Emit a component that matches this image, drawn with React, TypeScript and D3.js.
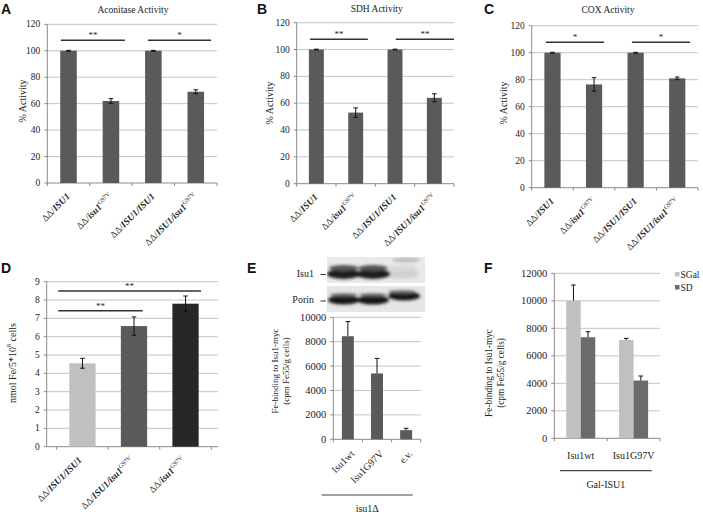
import React from "react";
import * as d3 from "d3";

type Part = [string, string];
type Sig = { from: number; to: number; value: number; label: string };

// ---------- data ----------
const activityCats: Part[][] = [
  [["ΔΔ/", ""], ["ISU1", "b"]],
  [["ΔΔ/", ""], ["isu1", "b"], ["G97V", "sup"]],
  [["ΔΔ/", ""], ["ISU1/ISU1", "b"]],
  [["ΔΔ/", ""], ["ISU1/isu1", "b"], ["G97V", "sup"]],
];
const pctTicks = [0, 20, 40, 60, 80, 100, 120];

const aconValues = [100, 62, 100, 69];
const aconErrors = [0.3, 1.8, 0.3, 1.5];
const aconSig: Sig[] = [
  { from: -0.18, to: 1.33, value: 108, label: "**" },
  { from: 1.87, to: 3.36, value: 108, label: "*" },
];

const sdhValues = [100, 53, 100, 64];
const sdhErrors = [0.3, 3.5, 0.3, 3];
const sdhSig: Sig[] = [
  { from: -0.16, to: 1.31, value: 107.6, label: "**" },
  { from: 2.02, to: 3.5, value: 107.6, label: "**" },
];

const coxValues = [100, 76.5, 100, 81];
const coxErrors = [0.3, 5, 0.3, 1];
const coxSig: Sig[] = [
  { from: -0.16, to: 1.24, value: 107.7, label: "*" },
  { from: 1.91, to: 3.31, value: 107.7, label: "*" },
];

const ironCats: Part[][] = [
  [["ΔΔ/", ""], ["ISU1/ISU1", "b"]],
  [["ΔΔ/", ""], ["ISU1/isu1", "b"], ["G97V", "sup"]],
  [["ΔΔ/", ""], ["isu1", "b"], ["G97V", "sup"]],
];
const ironTicks = [0, 1, 2, 3, 4, 5, 6, 7, 8, 9];
const ironValues = [4.55, 6.58, 7.8];
const ironErrors = [0.27, 0.5, 0.42];
const ironColors = ["#c0c0c0", "#5a5a5a", "#272727"];
const ironSig: Sig[] = [
  { from: -0.47, to: 2.3, value: 8.49, label: "**" },
  { from: -0.47, to: 1.17, value: 7.42, label: "**" },
];

const bindCats: Part[][] = [[["Isu1wt", ""]], [["Isu1G97V", ""]], [["e.v.", ""]]];
const bindTicks = [0, 2000, 4000, 6000, 8000, 10000];
const bindValues = [8450, 5400, 750];
const bindErrors = [1200, 1230, 150];
const blotIsu1 = [1, 1, 0.1];
const blotPorin = [1, 1, 1];

const galCats: Part[][] = [[["Isu1wt", ""]], [["Isu1G97V", ""]]];
const galSeries = ["SGal", "SD"];
const galColors = ["#c0c0c0", "#6b6b6b"];
const sgalValues = [10000, 7150];
const sgalErrors = [1150, 120];
const sdValues = [7350, 4200];
const sdErrors = [400, 330];
const galTicks = [0, 2000, 4000, 6000, 8000, 10000, 12000];

// ---------- drawing ----------
const SERIF = "'Liberation Serif', 'DejaVu Serif', serif";
const SANS = "'Liberation Sans', Arial, sans-serif";
const GRID = "#c4c4c4";
const AXIS = "#8a8a8a";
const BAR = "#5a5a5a";

function Rich({ parts, fs }: { parts: Part[]; fs: number }) {
  let cur = 0;
  return (
    <>
      {parts.map(([t, s], i) => {
        const target = s === "sup" ? -fs * 0.38 : 0;
        const dy = target - cur;
        cur = target;
        return (
          <tspan
            key={i}
            dy={dy || undefined}
            fontSize={s === "sup" ? fs * 0.65 : undefined}
            fontWeight={s === "b" ? "bold" : undefined}
            fontStyle={s === "b" ? "italic" : undefined}
          >
            {t}
          </tspan>
        );
      })}
    </>
  );
}

interface Cfg {
  letter: string;
  letterPos: [number, number];
  title?: string;
  titlePos?: [number, number];
  box: [number, number, number, number];
  catRange?: [number, number];
  cats: Part[][];
  ticks: number[];
  series: number[][];
  errors: number[][];
  color: (s: number, i: number) => string;
  barFrac: number;
  plusOnly?: boolean;
  sig?: Sig[];
  yLabel: Part[][];
  yLabelX: number[];
  yLabelY: number;
  yLabelFs: number;
  fs: number;
  catFs: number;
  rotate: boolean;
  shift: [number, number];
}

function bandScale(c: Cfg) {
  const [left, , right] = c.box;
  const [r0, r1] = c.catRange ?? [left, right];
  return d3.scaleBand<number>().domain(d3.range(c.cats.length)).range([r0, r1]);
}

function BarPanel({ c }: { c: Cfg }) {
  const [left, top, right, bottom] = c.box;
  const y = d3.scaleLinear().domain([0, c.ticks[c.ticks.length - 1]]).range([bottom, top]);
  const x = bandScale(c);
  const n = c.cats.length;
  const xi = d3.scaleLinear().domain([-0.5, n - 0.5]).range(x.range());
  const groupW = x.bandwidth() * c.barFrac;
  const sub = d3.scaleBand<number>().domain(d3.range(c.series.length)).range([-groupW / 2, groupW / 2]);
  const cx = (i: number) => x(i)! + x.bandwidth() / 2;

  return (
    <g fontFamily={SERIF} fill="#222">
      <text x={c.letterPos[0]} y={c.letterPos[1]} fontFamily={SANS} fontWeight="bold" fontSize={14} fill="#111">
        {c.letter}
      </text>
      {c.title && (
        <text x={c.titlePos![0]} y={c.titlePos![1]} textAnchor="middle" dominantBaseline="central" fontSize={9.5}>
          {c.title}
        </text>
      )}
      {c.ticks.map((t) => (
        <line key={"g" + t} x1={left} x2={right} y1={y(t)} y2={y(t)} stroke={t === 0 ? AXIS : GRID} strokeWidth={1} />
      ))}
      <line x1={left} x2={left} y1={top} y2={bottom} stroke={AXIS} />
      {c.ticks.map((t) => (
        <g key={"t" + t}>
          <line x1={left - 3} x2={left} y1={y(t)} y2={y(t)} stroke={AXIS} />
          <text x={left - 7} y={y(t)} textAnchor="end" dominantBaseline="central" fontSize={c.fs}>
            {t}
          </text>
        </g>
      ))}
      {d3.range(n + 1).map((k) => (
        <line key={"x" + k} x1={xi(k - 0.5)} x2={xi(k - 0.5)} y1={bottom} y2={bottom + 3} stroke={AXIS} />
      ))}
      {c.series.map((vals, s) =>
        vals.map((v, i) => (
          <rect
            key={`b${s}-${i}`}
            x={cx(i) + sub(s)!}
            width={sub.bandwidth()}
            y={y(v)}
            height={bottom - y(v)}
            fill={c.color(s, i)}
          />
        ))
      )}
      {c.series.map((vals, s) =>
        vals.map((v, i) => {
          const e = c.errors[s][i];
          const ex = cx(i) + sub(s)! + sub.bandwidth() / 2;
          const lo = c.plusOnly ? v : v - e;
          return (
            <g key={`e${s}-${i}`} stroke="#111" strokeWidth={1}>
              <line x1={ex} x2={ex} y1={y(lo)} y2={y(v + e)} />
              <line x1={ex - 2.3} x2={ex + 2.3} y1={y(v + e)} y2={y(v + e)} />
              {!c.plusOnly && <line x1={ex - 2.3} x2={ex + 2.3} y1={y(lo)} y2={y(lo)} />}
            </g>
          );
        })
      )}
      {(c.sig ?? []).map((s, k) => (
        <g key={"s" + k}>
          <line x1={xi(s.from)} x2={xi(s.to)} y1={y(s.value)} y2={y(s.value)} stroke="#333" strokeWidth={1.5} />
          <text x={(xi(s.from) + xi(s.to)) / 2} y={y(s.value) - 2} textAnchor="middle" fontSize={9}>
            {s.label}
          </text>
        </g>
      ))}
      {c.cats.map((parts, i) =>
        c.rotate ? (
          <text
            key={"c" + i}
            transform={`translate(${cx(i) + c.shift[0]},${bottom + c.shift[1]}) rotate(-45)`}
            textAnchor="end"
            fontSize={c.catFs}
          >
            <Rich parts={parts} fs={c.catFs} />
          </text>
        ) : (
          <text key={"c" + i} x={cx(i) + c.shift[0]} y={bottom + c.shift[1]} textAnchor="middle" fontSize={c.catFs}>
            <Rich parts={parts} fs={c.catFs} />
          </text>
        )
      )}
      {c.yLabel.map((parts, k) => (
        <text
          key={"y" + k}
          transform={`translate(${c.yLabelX[k]},${c.yLabelY}) rotate(-90)`}
          textAnchor="middle"
          dominantBaseline="central"
          fontSize={c.yLabelFs}
        >
          <Rich parts={parts} fs={c.yLabelFs} />
        </text>
      ))}
    </g>
  );
}

const single = () => BAR;
const pctLabel: Part[][] = [[["% Activity", ""]]];
const fbLabel: Part[][] = [[["Fe-binding to Isu1-myc", ""]], [["(cpm Fe55/g  cells)", ""]]];

const cfgA: Cfg = {
  letter: "A", letterPos: [1, 13.5], title: "Aconitase Activity", titlePos: [133, 9.5],
  box: [47.3, 24.3, 217, 183], cats: activityCats, ticks: pctTicks,
  series: [aconValues], errors: [aconErrors], color: single, barFrac: 0.39, sig: aconSig,
  yLabel: pctLabel, yLabelX: [22], yLabelY: 101, yLabelFs: 10, fs: 9.5, catFs: 9.5, rotate: true, shift: [2, 14],
};
const cfgB: Cfg = {
  letter: "B", letterPos: [257, 13.5], title: "SDH Activity", titlePos: [376.7, 9],
  box: [296.7, 22.7, 454, 183.7], cats: activityCats, ticks: pctTicks,
  series: [sdhValues], errors: [sdhErrors], color: single, barFrac: 0.38, sig: sdhSig,
  yLabel: pctLabel, yLabelX: [269], yLabelY: 103, yLabelFs: 10, fs: 9.5, catFs: 9.5, rotate: true, shift: [2, 14],
};
const cfgC: Cfg = {
  letter: "C", letterPos: [484, 13.5], title: "COX Activity", titlePos: [608, 10],
  box: [531.7, 25.7, 698, 187.7], cats: activityCats, ticks: pctTicks,
  series: [coxValues], errors: [coxErrors], color: single, barFrac: 0.39, sig: coxSig,
  yLabel: pctLabel, yLabelX: [503], yLabelY: 103, yLabelFs: 10, fs: 9.5, catFs: 9.5, rotate: true, shift: [2, 14],
};
const cfgD: Cfg = {
  letter: "D", letterPos: [1, 273], box: [46.7, 281.7, 218, 446.7], catRange: [56.7, 211.3],
  cats: ironCats, ticks: ironTicks, series: [ironValues], errors: [ironErrors],
  color: (_s, i) => ironColors[i], barFrac: 0.51, sig: ironSig,
  yLabel: [[["nmol Fe/5*10", ""], ["8", "sup"], [" cells", ""]]], yLabelX: [12], yLabelY: 363, yLabelFs: 10,
  fs: 9.5, catFs: 9.5, rotate: true, shift: [0, 14],
};
const cfgE: Cfg = {
  letter: "E", letterPos: [247, 272.5], box: [333.3, 317.3, 420.7, 439.3],
  cats: bindCats, ticks: bindTicks, series: [bindValues], errors: [bindErrors], color: single,
  barFrac: 0.41, plusOnly: true, yLabel: fbLabel, yLabelX: [274.5, 286], yLabelY: 371, yLabelFs: 9,
  fs: 10.5, catFs: 10, rotate: true, shift: [7, 15],
};
const cfgF: Cfg = {
  letter: "F", letterPos: [484, 273], box: [554.3, 273.3, 660, 438.3],
  cats: galCats, ticks: galTicks, series: [sgalValues, sdValues], errors: [sgalErrors, sdErrors],
  color: (s) => galColors[s], barFrac: 0.55, plusOnly: true, yLabel: fbLabel, yLabelX: [489, 501],
  yLabelY: 373, yLabelFs: 9.3, fs: 10.5, catFs: 10, rotate: false, shift: [0, 20.5],
};

function Blot() {
  const x = bandScale(cfgE);
  const cx = (i: number) => x(i)! + x.bandwidth() / 2;
  const bx0 = 327, bx1 = 425;
  return (
    <g fontFamily={SERIF}>
      <defs>
        <filter id="blur" x="-20%" y="-50%" width="140%" height="200%">
          <feGaussianBlur stdDeviation="1.4" />
        </filter>
        <clipPath id="c1"><rect x={bx0} y={257} width={bx1 - bx0} height={26} /></clipPath>
        <clipPath id="c2"><rect x={bx0} y={286} width={bx1 - bx0} height={26} /></clipPath>
      </defs>
      <rect x={bx0} y={257} width={bx1 - bx0} height={26} fill="#e9e9e9" />
      <rect x={bx0} y={286} width={bx1 - bx0} height={26} fill="#e6e6e6" />
      <g clipPath="url(#c1)" filter="url(#blur)">
        {blotIsu1.map((a, i) => (
          <g key={i} opacity={a}>
            <ellipse cx={cx(i) - 4} cy={274} rx={17} ry={5} fill="#1a1a1a" />
            <ellipse cx={cx(i) - 4} cy={268} rx={15} ry={3} fill="#555" />
          </g>
        ))}
        <ellipse cx={cx(2)} cy={260} rx={14} ry={2.5} fill="#bbb" />
      </g>
      <g clipPath="url(#c2)" filter="url(#blur)">
        {blotPorin.map((a, i) => (
          <g key={i} opacity={a}>
            <ellipse cx={cx(i) - 4 + (i === 2 ? 2 : 0)} cy={i === 2 ? 296 : 300} rx={16} ry={4.5} fill="#151515" />
            <ellipse cx={cx(i) - 4} cy={i === 2 ? 292 : 295} rx={14} ry={1.8} fill="#666" />
          </g>
        ))}
      </g>
      <text x={314} y={273} textAnchor="end" dominantBaseline="central" fontSize={10} fill="#222">Isu1</text>
      <line x1={320.5} x2={326} y1={274.5} y2={274.5} stroke="#333" />
      <text x={314} y={299} textAnchor="end" dominantBaseline="central" fontSize={10} fill="#222">Porin</text>
      <line x1={320.5} x2={326} y1={301} y2={301} stroke="#333" />
    </g>
  );
}

function Legend() {
  return (
    <g fontFamily={SERIF} fontSize={9.5} fill="#222">
      {galSeries.map((s, k) => (
        <g key={s}>
          <rect x={675} y={272 + k * 13} width={4.5} height={4.5} fill={galColors[k]} />
          <text x={680.5} y={274.5 + k * 13} dominantBaseline="central">{s}</text>
        </g>
      ))}
    </g>
  );
}

function Bracket({ x1, x2, ly, ty, label }: { x1: number; x2: number; ly: number; ty: number; label: Part[] }) {
  return (
    <g fontFamily={SERIF} fill="#222">
      <line x1={x1} x2={x2} y1={ly} y2={ly} stroke="#444" strokeWidth={1.2} />
      <text x={(x1 + x2) / 2} y={ty} textAnchor="middle" dominantBaseline="central" fontSize={10}>
        <Rich parts={label} fs={10} />
      </text>
    </g>
  );
}

export default function App() {
  return (
    <svg width={703} height={512} style={{ position: "absolute", left: 0, top: 0, background: "#fff" }}>
      <rect width={703} height={512} fill="#fff" />
      <BarPanel c={cfgA} />
      <BarPanel c={cfgB} />
      <BarPanel c={cfgC} />
      <BarPanel c={cfgD} />
      <Blot />
      <BarPanel c={cfgE} />
      <BarPanel c={cfgF} />
      <Legend />
      <Bracket x1={321.7} x2={412.7} ly={495} ty={507.5} label={[["isu1Δ", ""]]} />
      <Bracket x1={560} x2={651.7} ly={470.7} ty={484} label={[["Gal-ISU1", ""]]} />
    </svg>
  );
}
